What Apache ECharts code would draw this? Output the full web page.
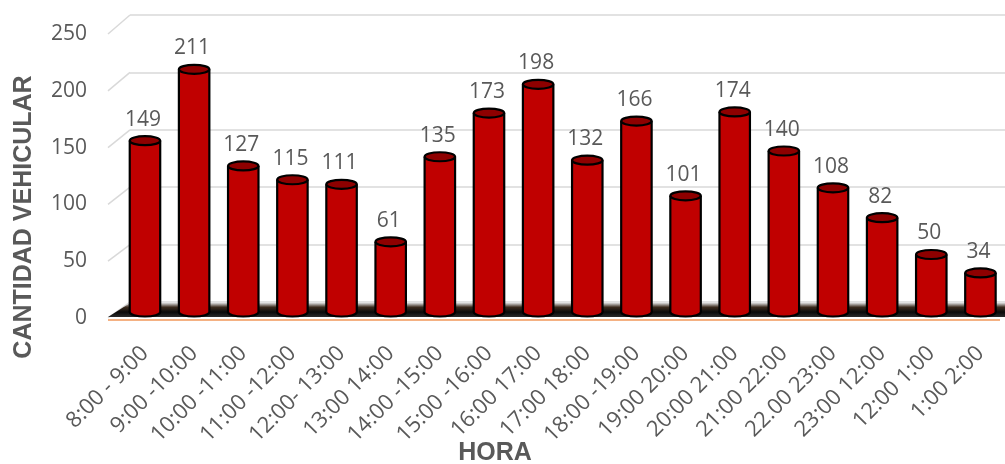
<!DOCTYPE html>
<html><head><meta charset="utf-8">
<script src="https://cdn.jsdelivr.net/npm/echarts@6/dist/echarts.min.js"></script>
<style>html,body{margin:0;padding:0;background:#fff}#c{width:1005px;height:464px}</style>
</head><body><div id="c"></div>
<script>
const categories = ["8:00 - 9:00","9:00 -10:00","10:00 -11:00","11:00 -12:00","12:00- 13:00","13:00 14:00","14:00 -15:00","15:00 -16:00","16:00 17:00","17:00 18:00","18:00 -19:00","19:00 20:00","20:00 21:00","21:00 22:00","22.00 23:00","23:00 12:00","12:00 1:00","1:00 2:00"];
const values = [149,211,127,115,111,61,135,173,198,132,166,101,174,140,108,82,50,34];
const yTicks = [0,50,100,150,200,250];
const yTitle = "CANTIDAD VEHICULAR";
const xTitle = "HORA";

const TXT = '#595959';
const chart = echarts.init(document.getElementById('c'));
const option = {
  animation: false,
  grid: [
    {left: 120.4, top: 24.5, width: 885.6, height: 287.5},
    {left: 108, top: 34, width: 892, height: 284},
    {left: 130, top: 15, right: 0, height: 287}
  ],
  xAxis: [
    {gridIndex: 0, type: 'category', data: categories, axisLine: {show: false}, axisTick: {show: false},
     axisLabel: {rotate: 45, margin: 38, interval: 0, color: TXT, fontSize: 22, fontFamily: 'Open Sans'}},
    {gridIndex: 1, type: 'value', min: 0, max: 1, show: false},
    {gridIndex: 2, type: 'value', min: 0, max: 1, show: false}
  ],
  yAxis: [
    {gridIndex: 0, type: 'value', min: 0, max: 250, show: false},
    {gridIndex: 1, type: 'value', min: 0, max: 250, interval: 50, axisLine: {show: false}, axisTick: {show: false},
     splitLine: {show: false}, axisLabel: {margin: 21, color: TXT, fontSize: 21, fontFamily: 'Open Sans'}},
    {gridIndex: 2, type: 'value', min: 0, max: 250, interval: 50, axisLine: {show: false}, axisTick: {show: false},
     axisLabel: {show: false}, splitLine: {lineStyle: {color: '#D9D9D9', width: 1.5}}}
  ],
  graphic: [
    {type: 'text', x: 24, y: 217, rotation: Math.PI / 2,
     style: {text: yTitle, fill: TXT, font: 'bold 25px "Liberation Sans"', align: 'center', verticalAlign: 'middle'}},
    {type: 'text', x: 495, y: 453,
     style: {text: xTitle, fill: TXT, font: 'bold 25px "Liberation Sans"', align: 'center', verticalAlign: 'middle'}}
  ],
  series: [{
    type: 'custom', xAxisIndex: 0, yAxisIndex: 0, z: 5,
    data: values.map((v, i) => [i, v]),
    renderItem: function (params, api) {
      const i = api.value(0), v = api.value(1);
      const top = api.coord([i, v]);
      const base = api.coord([i, 0]);
      const w = api.size([1, 0])[0] * 0.62;
      const rx = w / 2, ry = 4.5, cx = top[0];
      return {type: 'group', children: [
        {type: 'ellipse', shape: {cx: cx, cy: base[1], rx: rx, ry: ry}, style: {fill: '#C00000', stroke: '#000', lineWidth: 2.2}},
        {type: 'rect', shape: {x: cx - rx, y: top[1], width: w, height: base[1] - top[1]}, style: {fill: '#C00000'}},
        {type: 'line', shape: {x1: cx - rx, y1: top[1], x2: cx - rx, y2: base[1]}, style: {stroke: '#000', lineWidth: 2.2}},
        {type: 'line', shape: {x1: cx + rx, y1: top[1], x2: cx + rx, y2: base[1]}, style: {stroke: '#000', lineWidth: 2.2}},
        {type: 'ellipse', shape: {cx: cx, cy: top[1], rx: rx, ry: ry}, style: {fill: '#8E0000', stroke: '#000', lineWidth: 2.2}},
        {type: 'text', style: {text: String(v), x: cx - 2, y: top[1] - 21, align: 'center', verticalAlign: 'middle', fill: TXT, font: '21px "Open Sans"'}}
      ]};
    }
  }]
};
chart.setOption(option);

const extra = [];
yTicks.forEach(t => {
  const f = chart.convertToPixel({gridIndex: 1}, [0, t]);
  const b = chart.convertToPixel({gridIndex: 2}, [0, t]);
  extra.push({type: 'line', z: 1, shape: {x1: f[0], y1: f[1], x2: b[0], y2: b[1]}, style: {stroke: '#D9D9D9', lineWidth: 1.5}});
});
const f0 = chart.convertToPixel({gridIndex: 1}, [0, 0]);
const b0 = chart.convertToPixel({gridIndex: 2}, [0, 0]);
const fR = chart.convertToPixel({gridIndex: 1}, [1, 0]);
extra.push({type: 'polygon', z: 2,
  shape: {points: [[f0[0], f0[1] - 1], [b0[0], b0[1] + 1], [1005, b0[1] + 1], [1005, f0[1] - 1]]},
  style: {fill: new echarts.graphic.LinearGradient(0, 0, 0, 1, [
    {offset: 0, color: '#d8d8d8'}, {offset: 0.3, color: '#3a2a1c'}, {offset: 0.65, color: '#0a0a0a'}, {offset: 1, color: '#2a2a2a'}])}});
extra.push({type: 'line', z: 2, shape: {x1: f0[0], y1: f0[1] + 2, x2: fR[0], y2: f0[1] + 2}, style: {stroke: '#F4B183', lineWidth: 2}});
chart.setOption({graphic: option.graphic.concat(extra)});
</script></body></html>
